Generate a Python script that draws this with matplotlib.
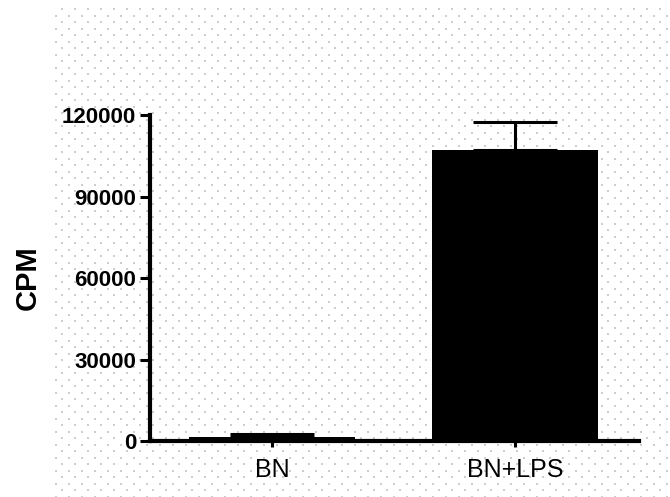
import numpy as np
import matplotlib
matplotlib.use("Agg")
import matplotlib.pyplot as plt

categories = ["BN", "BN+LPS"]
means = [1500, 107000]
sems = [1000, 10500]
yticks = [0, 30000, 60000, 90000, 120000]

W, H = 670, 497
fig = plt.figure(figsize=(W / 100, H / 100), dpi=100)

# background dotted texture (figure-wide)
bg = fig.add_axes([0, 0, 1, 1], zorder=-10)
bg.set_xlim(0, W)
bg.set_ylim(H, 0)
bg.axis("off")
xs, ys = [], []
row = 0
for y in np.arange(9, H, 6.5):
    x0 = 62 if row % 2 == 0 else 55.5
    for x in np.arange(x0, W, 13):
        xs.append(x)
        ys.append(y)
    row += 1
bg.scatter(xs, ys, s=2.0, marker="s", color="#cdcdcd", linewidths=0)

ax = fig.add_axes([150 / W, 1 - 441 / H, (639 - 150) / W, (441 - 115) / H])
ax.patch.set_alpha(0)
x = np.arange(len(categories))
ax.bar(x, means, width=0.683, color="black", zorder=2)
ax.errorbar(x, means, yerr=[[0] * len(sems), sems], fmt="none", ecolor="black",
            elinewidth=2.2, capsize=30, capthick=2.2, zorder=1)

ax.set_xlim(-0.502, 1.51)
ax.set_ylim(0, 120000)
ax.set_yticks(yticks)
ax.set_yticklabels([str(v) for v in yticks], fontsize=16, fontweight="bold",
                   family="Liberation Sans")
ax.set_xticks(x)
ax.set_xticklabels(categories, fontsize=18, family="Liberation Sans")
for s in ["top", "right"]:
    ax.spines[s].set_visible(False)
for s in ["left", "bottom"]:
    ax.spines[s].set_linewidth(3)
ax.tick_params(axis="y", length=7, width=2.2, pad=3)
ax.tick_params(axis="x", length=4, width=2.2, pad=8)
ax.set_ylabel("CPM", fontsize=21, fontweight="bold", family="Liberation Sans")
ax.yaxis.set_label_coords(-0.222, 0.5)

fig.savefig("out.png", dpi=100)
